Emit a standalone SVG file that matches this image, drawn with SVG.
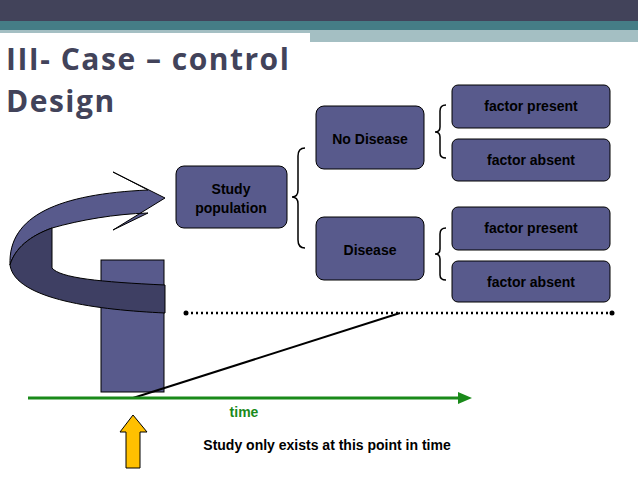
<svg xmlns="http://www.w3.org/2000/svg" width="638" height="479" viewBox="0 0 638 479">
<style>
.b{fill:#585a8c;stroke:#000;stroke-width:1}
.t{font-family:"Liberation Sans",Arial,sans-serif;font-weight:bold;font-size:14px;fill:#000;text-anchor:middle}
.br{fill:none;stroke:#000;stroke-width:1.5}
</style>
<rect width="638" height="479" fill="#fff"/>
<rect x="0" y="0" width="638" height="21" fill="#42435a"/>
<rect x="0" y="21" width="638" height="9" fill="#457d86"/>
<rect x="310" y="30" width="328" height="12" fill="#a4bfc3"/>
<rect x="0" y="30" width="310" height="3" fill="#a4bfc3"/>
<text x="6" y="70" font-family="Open Sans,DejaVu Sans,sans-serif" font-weight="bold" font-size="30" letter-spacing="1.5" fill="#42435a">III- Case – control</text>
<text x="6" y="112" font-family="Open Sans,DejaVu Sans,sans-serif" font-weight="bold" font-size="30" letter-spacing="1.5" fill="#42435a">Design</text>
<g id="column"><rect class="b" x="101" y="260" width="63" height="132"/></g>
<g id="curved-arrow">
<path class="b" d="M165,198 L113,230 L148,213 C115,214 80,220 52,228 C30,236 15,248 10,265 C8,215 60,194 148,190 L113,172 Z"/>
<path d="M10,265 C15,300 100,310 165,313 L165,285 C100,282 60,278 52,268 L52,228 C30,236 15,248 10,265 Z" fill="#3e3f63" stroke="#000"/>
</g>
<g id="study"><rect class="b" x="176" y="166" width="111" height="62" rx="8"/><text class="t" x="231" y="194">Study</text><text class="t" x="231" y="213">population</text></g>
<g id="nodisease"><rect class="b" x="316" y="106" width="108" height="63" rx="8"/><text class="t" x="370" y="144">No Disease</text></g>
<g id="disease"><rect class="b" x="316" y="217" width="108" height="63" rx="8"/><text class="t" x="370" y="255">Disease</text></g>
<g id="f1"><rect class="b" x="452" y="85" width="158" height="43" rx="6"/><text class="t" x="531" y="111">factor present</text></g>
<g id="f2"><rect class="b" x="452" y="139" width="158" height="42" rx="6"/><text class="t" x="531" y="165">factor absent</text></g>
<g id="f3"><rect class="b" x="452" y="207" width="158" height="43" rx="6"/><text class="t" x="531" y="233">factor present</text></g>
<g id="f4"><rect class="b" x="452" y="261" width="158" height="41" rx="6"/><text class="t" x="531" y="287">factor absent</text></g>
<g id="connectors">
<path class="br" d="M305,148 Q298,148 298,156 L298,190 Q298,197 292,197 Q298,197 298,204 L298,240 Q298,248 305,248"/>
<path class="br" d="M446,105 Q440,105 440,111 L440,127 Q440,132 435,132 Q440,132 440,137 L440,153 Q440,158 446,158"/>
<path class="br" d="M446,228 Q440,228 440,234 L440,249 Q440,254 435,254 Q440,254 440,259 L440,275 Q440,280 446,280"/>
<line x1="186" y1="313" x2="612" y2="313" stroke="#000" stroke-width="2.5" stroke-dasharray="2,3"/>
<circle cx="186" cy="313" r="2.5"/><circle cx="612" cy="313" r="2.5"/>
<line x1="133" y1="398" x2="400" y2="313" stroke="#000" stroke-width="2"/>
<line x1="28" y1="398" x2="460" y2="398" stroke="#1a8a1a" stroke-width="3"/>
<polygon points="472,398 458,392 458,404" fill="#1a8a1a"/>
<polygon points="133,415 120,432 126,432 126,468 140,468 140,432 147,432" fill="#ffc000" stroke="#000"/>
</g>
<text x="244" y="417" font-family="Liberation Sans,Arial,sans-serif" font-weight="bold" font-size="14" fill="#1a8a1a" text-anchor="middle">time</text>
<text class="t" x="327" y="450">Study only exists at this point in time</text>
</svg>
